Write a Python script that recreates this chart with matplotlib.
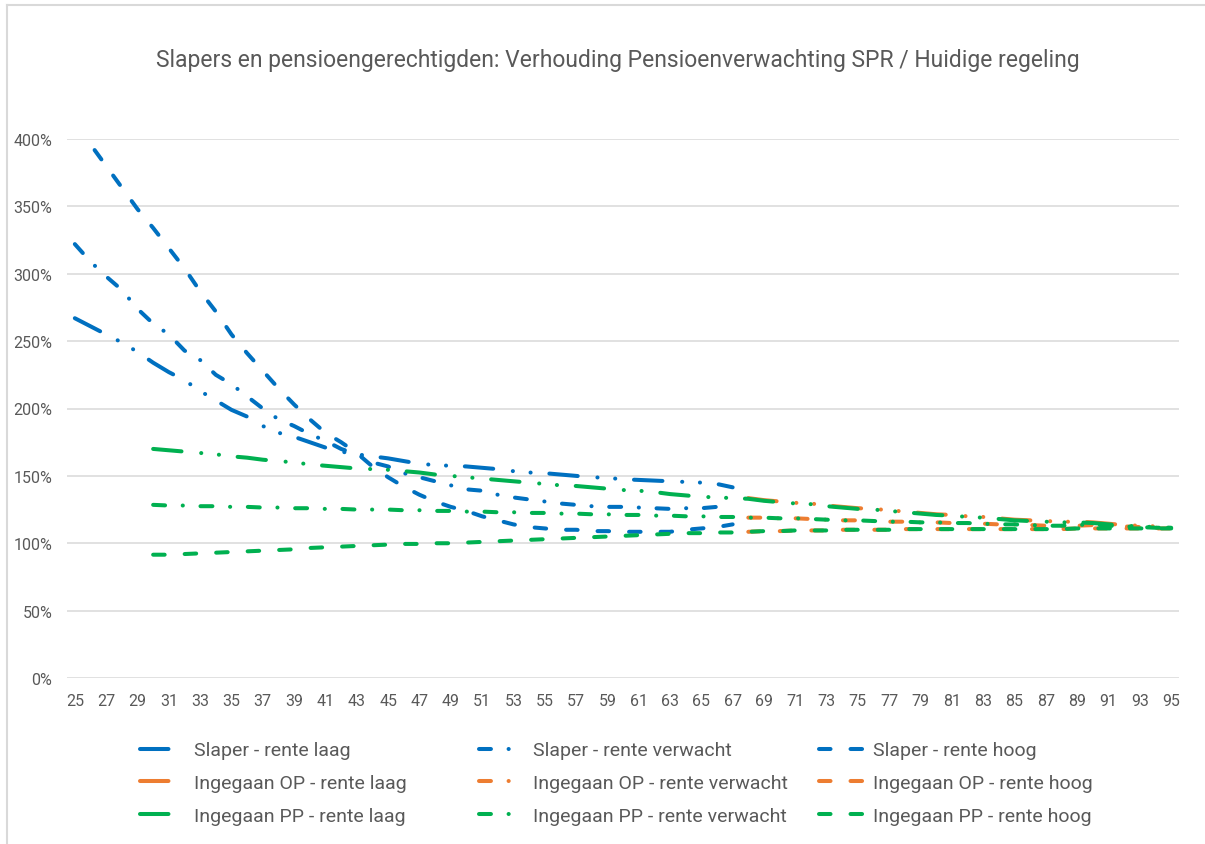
import numpy as np
import matplotlib
matplotlib.use('Agg')
import matplotlib.pyplot as plt
from matplotlib.lines import Line2D

plt.rcParams['font.family'] = ['Roboto', 'DejaVu Sans']
plt.rcParams['lines.scale_dashes'] = False

title = 'Slapers en pensioengerechtigden: Verhouding Pensioenverwachting SPR / Huidige regeling'

ages_slaper = list(range(25, 68))
ages_pp = list(range(30, 96))
ages_op = list(range(68, 96))

# values in %
slaper_laag = [267, 261, 255, 249, 242, 234, 227, 221, 213, 206,
               199, 194, 187, 182, 179, 175, 171, 168, 166, 164.5,
               163, 161, 159, 158, 157.5, 157, 156, 155, 153.5, 152.5,
               152, 151, 150, 149, 148.5, 147.5, 147, 146.5, 146, 145.5,
               145, 144, 141.5]
slaper_verwacht = [322, 309, 298, 288, 274, 263, 255, 243, 236, 225,
                   218, 209, 200, 192, 187, 181, 176, 170, 166, 160,
                   157, 152, 149, 146, 143, 140, 139, 136, 134, 132.5,
                   131, 129.5, 128.5, 127.5, 127, 127, 126.5, 126, 125.5, 126,
                   126, 127, 127]
slaper_hoog = [410, 396, 380, 364, 348, 334, 319, 304, 287, 272,
               255, 241, 228, 215, 203, 192, 182, 175, 167, 157,
               149, 142, 136, 131, 127, 124, 120, 117, 114, 112,
               111, 110, 110, 109, 109, 108.5, 108.5, 108.5, 108.5, 110,
               111, 112, 114]

op_laag = [133.5, 132, 131, 130, 129.5, 128, 127, 126, 125.5, 124.5,
           123.5, 122.5, 121.5, 121, 120, 119.5, 118.5, 117.5, 117, 116.5,
           116, 116, 115.5, 114.5, 113.5, 113, 112.5, 112]
op_verwacht = [119, 119, 118.5, 118.5, 118, 117.5, 117, 117, 116.5, 116,
               116, 115.5, 115.5, 115, 115, 114.5, 114, 114, 113.5, 113,
               113, 113, 113.5, 113, 112.5, 112, 111.5, 111.5]
op_hoog = [108.5, 109, 109, 109.5, 109.5, 109.5, 110, 110, 110, 110,
           110.5, 110.5, 110.5, 110.5, 110.5, 110.5, 110.5, 110.5, 110.5, 110.5,
           110.5, 111, 111, 111, 111, 111, 111, 111]

pp_laag = [170, 169, 168, 167, 166, 164.5, 163.5, 162, 161, 160,
           158.5, 157.5, 156.5, 155.5, 155, 154.5, 153.5, 152.5, 151, 150,
           149, 148, 147, 146, 145, 144, 143, 142.5, 141.5, 140.5,
           139.5, 139, 138, 136.5, 135.5, 134.5, 134, 133.5, 133, 131.5,
           130.5, 129.5, 129, 127.5, 126.5, 125.5, 125, 124, 123, 122,
           121, 120.5, 119.5, 119, 118, 117, 116.5, 116, 115.5, 115.5,
           115, 114, 113, 112.5, 112, 111.5]
pp_verwacht = [128.5, 128, 128, 127.5, 127.5, 127, 127, 126.5, 126.5, 126,
               126, 125.5, 125.5, 125, 125, 125, 124.5, 124.5, 124, 124,
               123.5, 123.5, 123, 123, 122.5, 122.5, 122, 122, 121.5, 121.5,
               121, 121, 120.5, 120.5, 120, 120, 119.5, 119.5, 119, 119,
               118.5, 118.5, 118, 117.5, 117, 117, 116.5, 116, 116, 115.5,
               115.5, 115, 115, 114.5, 114, 114, 113.5, 113, 113, 113.5,
               114, 113, 112.5, 112, 111.5, 111.5]
pp_hoog = [91.5, 91.5, 92, 92.5, 93, 93.5, 94, 94.5, 95, 95.5,
           96.5, 97, 97.5, 98, 98.5, 99, 99.5, 99.5, 100, 100,
           100.5, 101, 101.5, 102, 102.5, 103, 103.5, 104, 104.5, 105,
           105.5, 106, 106.5, 107, 107.5, 107.5, 108, 108, 108.5, 109,
           109, 109.5, 109.5, 109.5, 110, 110, 110, 110, 110.5, 110.5,
           110.5, 110.5, 110.5, 110.5, 110.5, 110.5, 110.5, 110.5, 110.5, 111,
           111, 111, 111, 111, 111, 111]

blue = '#0070C0'
orange = '#ED7D31'
green = '#00B050'
grey_txt = '#595959'

# dash patterns (points)
ls_laag = (0, (20.5, 14.2, 0.1, 12.7, 0.1, 13.5))
ls_verw = (0, (8.6, 12.7, 0.1, 12.7))
ls_hoog = (0, (8.3, 14.4))

series = [
    ('Slaper - rente laag', ages_slaper, slaper_laag, blue, ls_laag),
    ('Slaper - rente verwacht', ages_slaper, slaper_verwacht, blue, ls_verw),
    ('Slaper - rente hoog', ages_slaper, slaper_hoog, blue, ls_hoog),
    ('Ingegaan OP - rente laag', ages_op, op_laag, orange, ls_laag),
    ('Ingegaan OP - rente verwacht', ages_op, op_verwacht, orange, ls_verw),
    ('Ingegaan OP - rente hoog', ages_op, op_hoog, orange, ls_hoog),
    ('Ingegaan PP - rente laag', ages_pp, pp_laag, green, ls_laag),
    ('Ingegaan PP - rente verwacht', ages_pp, pp_verwacht, green, ls_verw),
    ('Ingegaan PP - rente hoog', ages_pp, pp_hoog, green, ls_hoog),
]

W, H = 1205, 845
fig = plt.figure(figsize=(W / 100, H / 100), dpi=100)
ax = fig.add_axes([67 / W, 1 - 679 / H, (1179 - 67) / W, (679 - 140) / H])

handles = []
for name, x, y, c, ls in series:
    ln, = ax.plot(x, y, color=c, lw=2.9, linestyle=ls,
                  dash_capstyle='round', solid_capstyle='round', label=name)
    handles.append(ln)

ax.set_xlim(24.5, 95.5)
ax.set_ylim(0, 400)
ax.set_xticks(range(25, 96, 2))
ax.set_yticks(range(0, 401, 50))
ax.set_yticklabels([f'{v}%' for v in range(0, 401, 50)])
ax.tick_params(axis='both', length=0, labelsize=11.5, colors=grey_txt)
ax.tick_params(axis='y', pad=10.5)
ax.tick_params(axis='x', pad=11)
ax.grid(axis='y', color='#D9D9D9', lw=1.1)
ax.set_axisbelow(True)
for s in ax.spines.values():
    s.set_visible(False)

fig.text(618 / W, 1 - 60 / H, title, ha='center', va='center',
         fontsize=16.5, color=grey_txt)

# legend in three fixed columns, like Excel
col_x = [140, 479, 819]
for i in range(3):
    hs = [handles[i], handles[i + 3], handles[i + 6]]
    fig.legend(handles=hs, loc='center left',
               bbox_to_anchor=(col_x[i] / W, 1 - 784 / H),
               frameon=False, fontsize=14, handlelength=2.3,
               handletextpad=0.5, labelspacing=0.75, borderpad=0,
               borderaxespad=0, labelcolor=grey_txt)

# chart area border (left and top visible)
fig.add_artist(Line2D([7 / W, 7 / W], [0, 1 - 6 / H], transform=fig.transFigure,
                      color='#D9D9D9', lw=1.5))
fig.add_artist(Line2D([7 / W, 1], [1 - 6 / H, 1 - 6 / H], transform=fig.transFigure,
                      color='#D9D9D9', lw=1.5))

fig.savefig('out.png', dpi=100)
